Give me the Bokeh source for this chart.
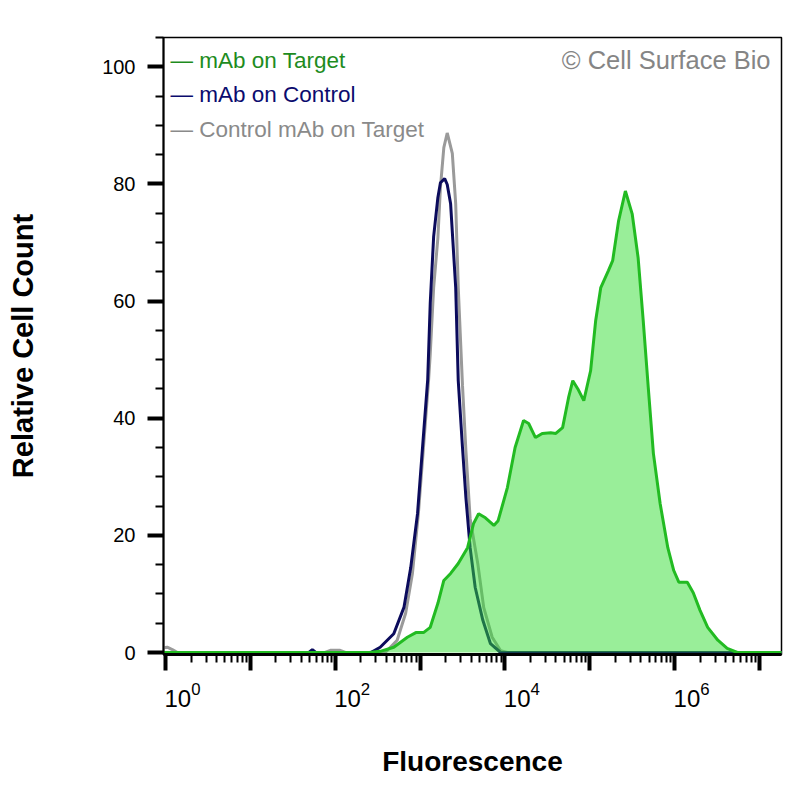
from bokeh.embed import file_html
from bokeh.models import (ColumnDataSource, CustomJSTickFormatter, FixedTicker, Label,
                          LogAxis, LogScale, LogTickFormatter, Range1d)
from bokeh.plotting import figure
from bokeh.resources import INLINE

# log10(fluorescence) and relative cell count
target_log = [-0.03, 2.40, 2.53, 2.69, 2.85, 2.95, 3.04, 3.12, 3.21, 3.28, 3.36, 3.45,
              3.56, 3.63, 3.69, 3.77, 3.87, 3.92, 4.03, 4.12, 4.22, 4.28, 4.36, 4.44,
              4.54, 4.60, 4.68, 4.75, 4.80, 4.86, 4.93, 5.01, 5.07, 5.13, 5.22, 5.27,
              5.34, 5.42, 5.50, 5.57, 5.63, 5.69, 5.75, 5.83, 5.92, 5.99, 6.05, 6.15,
              6.22, 6.30, 6.39, 6.51, 6.62, 6.74, 7.30]
target_count = [0, 0, 0.2, 0.9, 2.6, 3.4, 3.4, 4.3, 8.4, 12.3, 13.5, 15.2,
                17.9, 22.0, 23.7, 23.0, 21.7, 22.5, 28.2, 35.0, 39.6, 39.1, 36.7, 37.4,
                37.5, 37.4, 38.4, 43.5, 46.4, 45.0, 43.0, 48.1, 56.7, 62.3, 65.2, 66.9,
                73.7, 78.8, 74.9, 67.4, 56.7, 45.2, 34.0, 25.4, 17.9, 14.0, 12.0, 12.0,
                10.2, 7.2, 4.3, 2.1, 0.7, 0, 0]

control_log = [-0.03, 1.69, 1.73, 1.77, 2.42, 2.53, 2.69, 2.81, 2.89, 2.97, 3.03, 3.09,
               3.12, 3.16, 3.21, 3.24, 3.29, 3.32, 3.36, 3.42, 3.45, 3.50, 3.54, 3.59,
               3.65, 3.74, 3.83, 3.95, 7.30]
control_count = [0, 0, 0.5, 0, 0, 0.9, 3.2, 7.7, 14.5, 23.7, 35.2, 46.6,
                 59.7, 71.0, 77.7, 80.2, 80.9, 79.9, 76.6, 62.3, 46.4, 35.0, 26.5, 17.9,
                 11.1, 5.5, 1.5, 0, 0]

isotype_log = [-0.03, 0.02, 0.08, 0.14, 1.88, 1.95, 2.05, 2.12, 2.59, 2.73, 2.83, 2.91,
               2.98, 3.04, 3.10, 3.12, 3.16, 3.21, 3.24, 3.28, 3.32, 3.38, 3.42, 3.45,
               3.50, 3.54, 3.59, 3.68, 3.75, 3.85, 3.95, 4.03, 7.30]
isotype_count = [0.8, 0.9, 0.5, 0, 0, 0.4, 0.4, 0, 0, 2.1, 6.7, 13.5,
                 23.7, 35.0, 46.4, 51.0, 62.3, 70.8, 79.4, 86.2, 88.7, 85.2, 76.6, 62.3,
                 45.6, 34.5, 22.9, 15.2, 7.7, 2.6, 0.3, 0, 0]

series_names = ["mAb on Target", "mAb on Control", "Control mAb on Target"]
decade_labels = [0, 2, 4, 6]
count_ticks = [0, 20, 40, 60, 80, 100]

FONT = "Liberation Sans"
GREEN_LINE = "#22bb22"
GREEN_FILL = "#33dd33"
NAVY = "#0b0b5c"
GREY = "#9a9a9a"
legend_colors = ["#1e8c1e", "#0b0b6e", "#8a8a8a"]

X_START, X_END = 0.946, 1.82e7
LABEL_SHIFT = 10 ** 0.2  # decade labels sit right of their tick


def src(logs, counts):
    return ColumnDataSource(dict(x=[10 ** v for v in logs], y=counts))


p = figure(
    frame_width=618,
    frame_height=617,
    min_border_left=163,
    min_border_right=19,
    min_border_top=37,
    min_border_bottom=146,
    x_axis_type="log",
    x_range=(X_START, X_END),
    y_range=(-0.34, 105),
    output_backend="svg",
    toolbar_location=None,
)

p.line("x", "y", source=src(isotype_log, isotype_count), line_color=GREY, line_width=3)
p.line("x", "y", source=src(control_log, control_count), line_color=NAVY, line_width=3)
target_src = src(target_log, target_count)
p.varea(x="x", y1=0, y2="y", source=target_src, fill_color=GREEN_FILL, fill_alpha=0.5)
p.line("x", "y", source=target_src, line_color=GREEN_LINE, line_width=3)

p.grid.visible = False
p.outline_line_color = "black"
p.outline_line_width = 1.5

# x axis: decades as major ticks, 2..9 as minor ticks; no labels here
majors = [10 ** k for k in range(0, 8)]
minors = [m * 10 ** k for k in range(0, 7) for m in range(2, 10)]
xa = p.xaxis[0]
xa.ticker = FixedTicker(ticks=majors, minor_ticks=minors)
xa.formatter = CustomJSTickFormatter(code="return ''")
xa.major_label_standoff = 0
xa.axis_line_width = 3
xa.major_tick_in = 0
xa.major_tick_out = 16
xa.major_tick_line_width = 4
xa.minor_tick_in = 0
xa.minor_tick_out = 8
xa.minor_tick_line_width = 2

# second axis only carries the 10^n labels and the title
p.extra_x_ranges = {"labels": Range1d(X_START / LABEL_SHIFT, X_END / LABEL_SHIFT)}
p.extra_x_scales = {"labels": LogScale()}
la = LogAxis(x_range_name="labels",
             ticker=FixedTicker(ticks=[10 ** e for e in decade_labels], minor_ticks=[]),
             formatter=LogTickFormatter())
la.axis_line_color = None
la.major_tick_line_color = None
la.minor_tick_line_color = None
la.major_tick_in = 0
la.major_tick_out = 0
la.major_label_standoff = 11
la.major_label_text_font = FONT
la.major_label_text_font_size = "24px"
la.major_label_text_color = "black"
la.axis_label = "Fluorescence"
la.axis_label_text_font = FONT
la.axis_label_text_font_size = "28px"
la.axis_label_text_font_style = "bold"
la.axis_label_text_color = "black"
la.axis_label_standoff = 36
p.add_layout(la, "below")

ya = p.yaxis[0]
ya.ticker = FixedTicker(ticks=count_ticks, minor_ticks=[v for v in range(5, 106, 5) if v % 20])
ya.axis_line_width = 2
ya.major_tick_in = 0
ya.major_tick_out = 16
ya.major_tick_line_width = 4
ya.minor_tick_in = 0
ya.minor_tick_out = 8
ya.minor_tick_line_width = 2
ya.major_label_standoff = 12
ya.major_label_text_font = FONT
ya.major_label_text_font_size = "20px"
ya.major_label_text_color = "black"
ya.axis_label = "Relative Cell Count"
ya.axis_label_text_font = FONT
ya.axis_label_text_font_size = "29px"
ya.axis_label_text_font_style = "bold"
ya.axis_label_text_color = "black"
ya.axis_label_standoff = 60

# legend
for i, (name, color) in enumerate(zip(series_names, legend_colors)):
    p.add_layout(Label(x=7, y=594 - 34.4 * i, x_units="screen", y_units="screen",
                       text="\u2014 " + name, text_font=FONT, text_font_size="22.5px",
                       text_color=color, text_align="left", text_baseline="alphabetic"))

p.add_layout(Label(x=607, y=595, x_units="screen", y_units="screen",
                   text="\u00a9 Cell Surface Bio", text_font=FONT, text_font_size="25.5px",
                   text_color="#858585", text_align="right", text_baseline="alphabetic"))

open("out.html", "w").write(file_html(p, INLINE))
